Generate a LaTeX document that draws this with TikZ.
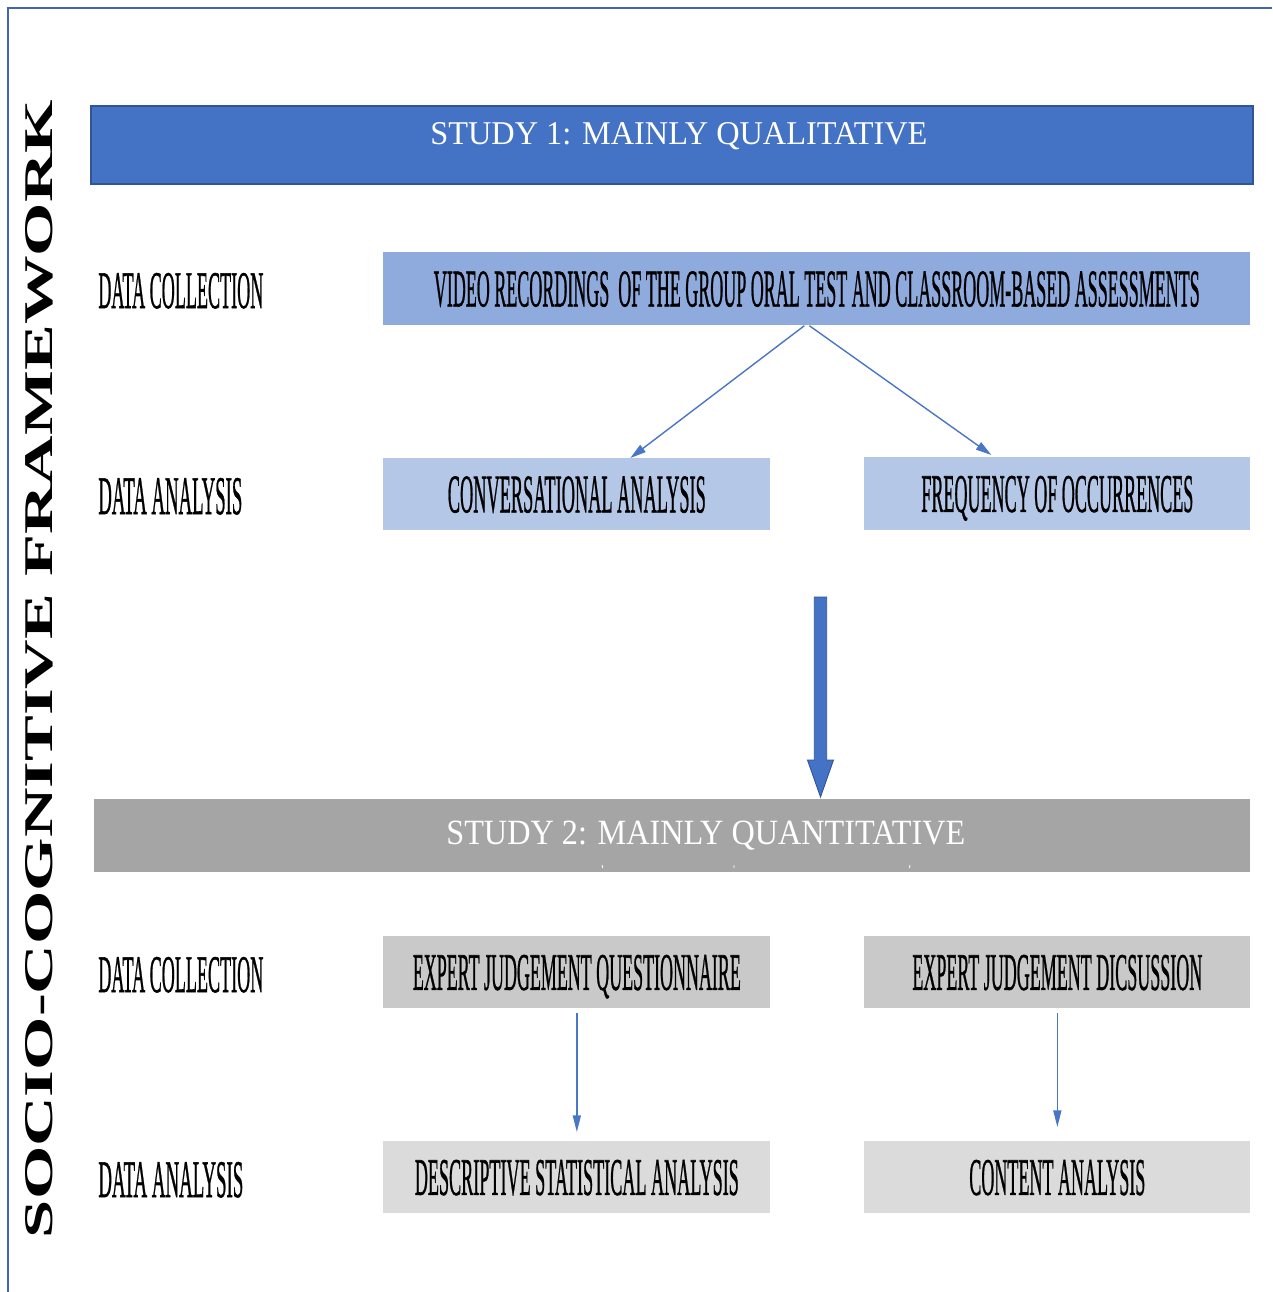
\documentclass[tikz,border=0pt]{standalone}
\usepackage{fontspec}
\setmainfont{Liberation Serif}
\newfontfamily\rowfont[FakeBold=1.2]{Liberation Serif}
\usetikzlibrary{arrows.meta,calc}

\definecolor{framecol}{HTML}{4166B0}
\definecolor{studyblue}{HTML}{4472C4}
\definecolor{studyedge}{HTML}{2F5597}
\definecolor{midblue}{HTML}{8FAADC}
\definecolor{lightblue}{HTML}{B4C7E7}
\definecolor{studygray}{HTML}{A5A5A5}
\definecolor{midgray}{HTML}{C9C9C9}
\definecolor{lightgray}{HTML}{DBDBDB}
\definecolor{flowblue}{HTML}{4A76C6}

% one drawing unit
\newlength\pxu
\setlength\pxu{0.02cm}
% text scaled to a given width and cap height, depth ignored
\newcommand\fitbox[3]{\raisebox{0pt}[#2\pxu][0pt]{\resizebox{#1\pxu}{#2\pxu}{#3}}}
% condensed row text
\newcommand\rowtext[3]{\fitbox{#1}{#2}{\rowfont #3}}

\tikzset{
  stagebox/.style={rectangle, inner sep=0pt, draw=none, anchor=north west},
  rowlabel/.style={anchor=base west, inner sep=0pt},
  flow/.style={draw=flowblue, line width=0.8pt, -{Triangle[length=9pt,width=5pt]}},
}

\begin{document}
\begin{tikzpicture}[x=0.02cm,y=-0.02cm]
\useasboundingbox (0,0) rectangle (1272,1292);
\fill[white] (0,0) rectangle (1272,1292);

% outer frame (top and left sides)
\draw[framecol, line width=1.4pt] (1272,8) -- (8,8) -- (8,1292);

% vertical framework title
\node[rotate=90, inner sep=0pt] (framework) at (38.5,669)
  {\fitbox{1138}{27}{\bfseries SOCIO-COGNITIVE FRAMEWORK}};

% ---------- Study 1 ----------
\node[stagebox, fill=studyblue, draw=studyedge, line width=1.2pt,
      minimum width=1162\pxu, minimum height=78\pxu] (s1) at (90,105) {};
\node[rowlabel, text=white] (s1text) at (430,144.3)
  {\fitbox{497}{22}{STUDY 1: MAINLY QUALITATIVE}};

\node[rowlabel] (dc1) at (98,308) {\rowtext{165}{35}{DATA COLLECTION}};
\node[rowlabel] (da1) at (98,514) {\rowtext{144}{36}{DATA ANALYSIS}};

\node[stagebox, fill=midblue, minimum width=867\pxu, minimum height=73\pxu] (video) at (383,252)
  {\rowtext{766}{35}{VIDEO RECORDINGS\ \ OF THE GROUP ORAL TEST AND CLASSROOM-BASED ASSESSMENTS}};
\node[stagebox, fill=lightblue, minimum width=387\pxu, minimum height=72\pxu] (conv) at (383,458)
  {\rowtext{258}{36}{CONVERSATIONAL ANALYSIS}};
\node[stagebox, fill=lightblue, minimum width=386\pxu, minimum height=73\pxu] (freq) at (864,457)
  {\rowtext{272}{36}{FREQUENCY OF OCCURRENCES}};

\draw[flow] ($(video.south)+(-12.5,0)$) -- ($(conv.north)+(53.5,0)$);
\draw[flow] ($(video.south)+(-7.5,0)$) -- ($(freq.north)+(-66,-2)$);

% ---------- Study 2 ----------
\node[stagebox, fill=studygray, minimum width=1156\pxu, minimum height=73\pxu] (s2) at (94,799) {};
\node[rowlabel, text=white] (s2text) at (446,844.6)
  {\fitbox{519}{23.5}{STUDY 2: MAINLY QUANTITATIVE}};
\draw[white, line width=0.5pt] (602,865) -- ++(0.6,3) (734,865) -- ++(0,3) (910,865) -- ++(-0.6,3);

% transition arrow between the studies
\coordinate (bigtip) at ($(s2.north west)+(726.5,-2)$);
\filldraw[fill=studyblue, draw=studyedge, line width=0.5pt, line join=miter]
  (bigtip) -- ++(13,-37) -- ++(-6.8,0) -- ++(0,-163) -- ++(-12.4,0)
  -- ++(0,163) -- ++(-6.8,0) -- cycle;

\node[rowlabel] (dc2) at (98,992) {\rowtext{165}{35}{DATA COLLECTION}};
\node[rowlabel] (da2) at (98,1197) {\rowtext{145}{35}{DATA ANALYSIS}};

\node[stagebox, fill=midgray, minimum width=387\pxu, minimum height=72\pxu] (ejq) at (383,936)
  {\rowtext{328}{35}{EXPERT JUDGEMENT QUESTIONNAIRE}};
\node[stagebox, fill=midgray, minimum width=386\pxu, minimum height=72\pxu] (ejd) at (864,936)
  {\rowtext{290}{35}{EXPERT JUDGEMENT DICSUSSION}};
\node[stagebox, fill=lightgray, minimum width=387\pxu, minimum height=72\pxu] (dsa) at (383,1141)
  {\rowtext{324}{35}{DESCRIPTIVE STATISTICAL ANALYSIS}};
\node[stagebox, fill=lightgray, minimum width=386\pxu, minimum height=72\pxu] (ca) at (864,1141)
  {\rowtext{176}{35}{CONTENT ANALYSIS}};

\draw[flow, -{Triangle[length=9.5pt,width=4.6pt]}] ($(ejq.south)+(0,4.5)$) -- ($(dsa.north)+(0,-9)$);
\draw[flow, -{Triangle[length=9.5pt,width=4.6pt]}] ($(ejd.south)+(0,4.5)$) -- ($(ca.north)+(0,-14)$);
\end{tikzpicture}
\end{document}
